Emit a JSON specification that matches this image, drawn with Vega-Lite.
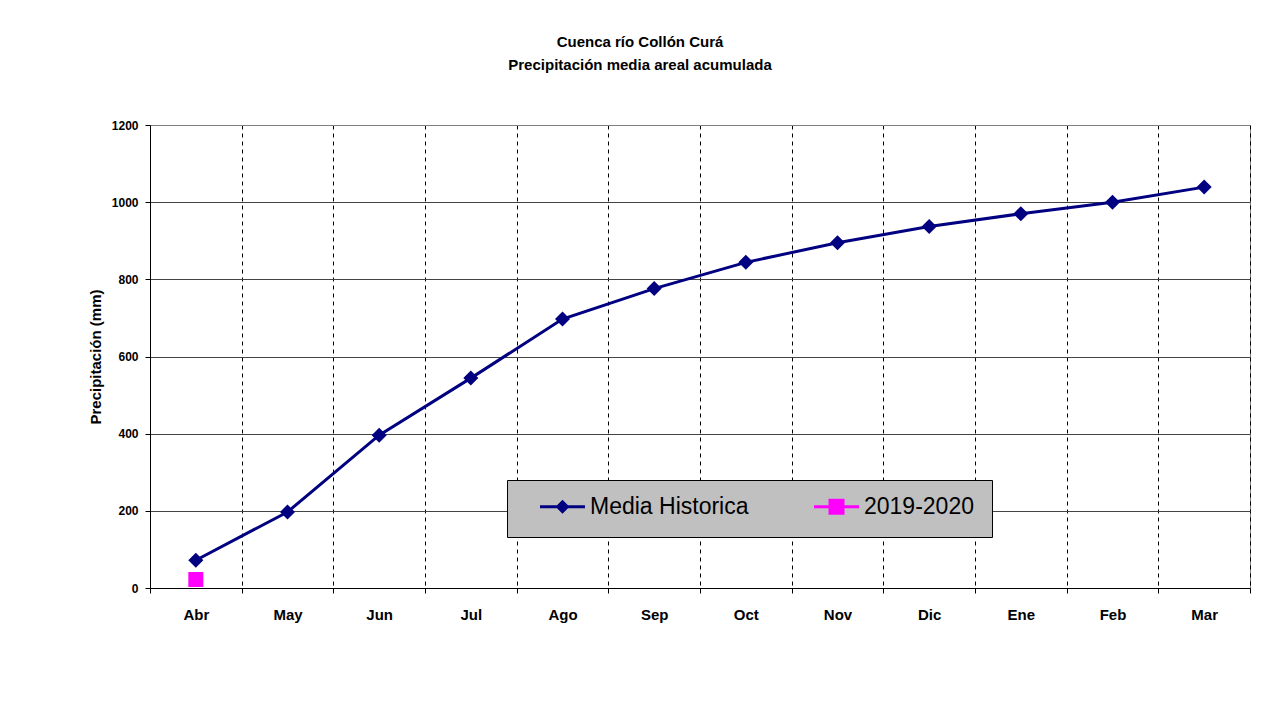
{
  "$schema": "https://vega.github.io/schema/vega-lite/v6.json",
  "autosize": {"type": "none"},
  "width": 1100,
  "height": 463,
  "padding": {"left": 150, "top": 125, "right": 29, "bottom": 128},
  "background": "white",
  "config": {
    "font": "Liberation Sans",
    "view": {"stroke": "#808080", "strokeWidth": 1}
  },
  "title": {
    "text": ["Cuenca río Collón Curá", "Precipitación media areal acumulada"],
    "font": "Liberation Sans",
    "fontSize": 15,
    "fontWeight": "bold",
    "color": "black",
    "lineHeight": 23,
    "anchor": "middle",
    "dx": -60,
    "offset": 46
  },
  "data": {
    "values": [
      {"mes": "Abr", "serie": "Media Historica", "valor": 72},
      {"mes": "May", "serie": "Media Historica", "valor": 197},
      {"mes": "Jun", "serie": "Media Historica", "valor": 396},
      {"mes": "Jul", "serie": "Media Historica", "valor": 544},
      {"mes": "Ago", "serie": "Media Historica", "valor": 697},
      {"mes": "Sep", "serie": "Media Historica", "valor": 776},
      {"mes": "Oct", "serie": "Media Historica", "valor": 844},
      {"mes": "Nov", "serie": "Media Historica", "valor": 895},
      {"mes": "Dic", "serie": "Media Historica", "valor": 937},
      {"mes": "Ene", "serie": "Media Historica", "valor": 970},
      {"mes": "Feb", "serie": "Media Historica", "valor": 1000},
      {"mes": "Mar", "serie": "Media Historica", "valor": 1039},
      {"mes": "Abr", "serie": "2019-2020", "valor": 22}
    ]
  },
  "encoding": {
    "x": {
      "field": "mes",
      "type": "nominal",
      "sort": ["Abr", "May", "Jun", "Jul", "Ago", "Sep", "Oct", "Nov", "Dic", "Ene", "Feb", "Mar"],
      "scale": {"type": "band", "paddingInner": 0, "paddingOuter": 0},
      "axis": {
        "title": null,
        "labelAngle": 0,
        "labelFont": "Liberation Sans",
        "labelFontSize": 15,
        "labelFontWeight": "bold",
        "labelColor": "black",
        "labelPadding": 14,
        "tickBand": "extent",
        "tickSize": 5,
        "tickColor": "black",
        "domainColor": "black",
        "grid": true,
        "gridColor": "black",
        "gridDash": [4, 4],
        "gridOpacity": 1,
        "gridWidth": 1
      }
    },
    "y": {
      "field": "valor",
      "type": "quantitative",
      "scale": {"domain": [0, 1200], "nice": false},
      "axis": {
        "title": "Precipitación (mm)",
        "titleFont": "Liberation Sans",
        "titleFontSize": 15,
        "titleFontWeight": "bold",
        "titleColor": "black",
        "titlePadding": 8,
        "values": [0, 200, 400, 600, 800, 1000, 1200],
        "format": "d",
        "labelFont": "Liberation Sans",
        "labelFontSize": 12,
        "labelFontWeight": "bold",
        "labelColor": "black",
        "labelPadding": 7,
        "tickSize": 5,
        "tickColor": "black",
        "domainColor": "black",
        "grid": true,
        "gridColor": {"condition": {"test": "datum.value === 1200", "value": "#808080"}, "value": "#444444"},
        "gridOpacity": 1,
        "gridWidth": 1
      }
    },
    "color": {
      "field": "serie",
      "type": "nominal",
      "scale": {"domain": ["Media Historica", "2019-2020"], "range": ["#000080", "#ff00ff"]},
      "legend": {
        "title": null,
        "orient": "none",
        "legendX": 357,
        "legendY": 355,
        "direction": "horizontal",
        "columns": 2,
        "fillColor": "#c0c0c0",
        "strokeColor": "black",
        "padding": 18,
        "clipHeight": 17,
        "columnPadding": 50,
        "symbolSize": 100,
        "symbolOffset": 26,
        "labelOffset": 16,
        "symbolStrokeWidth": 0,
        "labelFont": "Liberation Sans",
        "labelFontSize": 23,
        "labelColor": "black",
        "labelLimit": 400,
        "encode": {
          "symbols": {
            "update": {
              "shape": {"signal": "datum.value === 'Media Historica' ? 'M-4.5,-0.3H4.5V0.3H-4.5ZM0,-1.4L1.4,0L0,1.4L-1.4,0Z' : 'M-4.5,-0.3H4.5V0.3H-4.5ZM-1.6,-1.6H1.6V1.6H-1.6Z'"},
              "fill": {"scale": "color", "field": "value"},
              "opacity": {"value": 1},
              "fillOpacity": {"value": 1}
            }
          }
        }
      }
    }
  },
  "layer": [
    {
      "mark": {"type": "line", "strokeWidth": 3}
    },
    {
      "transform": [{"filter": "datum.serie === 'Media Historica'"}],
      "mark": {"type": "point", "shape": "diamond", "filled": true, "opacity": 1, "size": 225}
    },
    {
      "transform": [{"filter": "datum.serie === '2019-2020'"}],
      "mark": {"type": "point", "shape": "square", "filled": true, "opacity": 1, "size": 225}
    }
  ]
}
